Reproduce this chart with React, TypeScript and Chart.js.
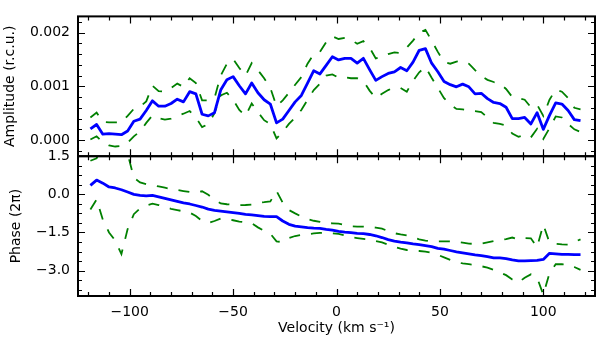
import React, { useEffect, useRef } from 'react';
import { Chart, registerables } from 'chart.js';

Chart.register(...registerables);

// ---- data ----
const velocity = [
  -119, -116, -113, -110, -107, -104, -101, -98, -95, -92,
  -89, -86, -83, -80, -77, -74, -71, -68, -65, -62,
  -59, -56, -53, -50, -47, -44, -41, -38, -35, -32,
  -29, -26, -23, -20, -17, -14, -11, -8, -5, -2,
  1, 4, 7, 10, 13, 16, 19, 22, 25, 28,
  31, 34, 37, 40, 43, 46, 49, 52, 55, 58,
  61, 64, 67, 70, 73, 76, 79, 82, 85, 88,
  91, 94, 97, 100, 103, 106, 109, 112, 115, 118,
];

const amplitude = [
  0.21e-3, 0.29e-3, 0.11e-3, 0.12e-3, 0.11e-3, 0.10e-3, 0.17e-3, 0.35e-3, 0.39e-3, 0.55e-3,
  0.73e-3, 0.63e-3, 0.63e-3, 0.68e-3, 0.76e-3, 0.71e-3, 0.90e-3, 0.86e-3, 0.48e-3, 0.45e-3,
  0.51e-3, 0.93e-3, 1.12e-3, 1.18e-3, 1.01e-3, 0.86e-3, 1.06e-3, 0.88e-3, 0.75e-3, 0.67e-3,
  0.32e-3, 0.39e-3, 0.55e-3, 0.71e-3, 0.83e-3, 1.06e-3, 1.29e-3, 1.23e-3, 1.39e-3, 1.55e-3,
  1.49e-3, 1.52e-3, 1.52e-3, 1.43e-3, 1.52e-3, 1.31e-3, 1.11e-3, 1.18e-3, 1.24e-3, 1.27e-3,
  1.35e-3, 1.29e-3, 1.45e-3, 1.67e-3, 1.70e-3, 1.43e-3, 1.27e-3, 1.09e-3, 1.03e-3, 0.99e-3,
  1.04e-3, 0.99e-3, 0.86e-3, 0.87e-3, 0.77e-3, 0.70e-3, 0.68e-3, 0.61e-3, 0.40e-3, 0.40e-3,
  0.42e-3, 0.30e-3, 0.51e-3, 0.20e-3, 0.46e-3, 0.69e-3, 0.67e-3, 0.55e-3, 0.38e-3, 0.36e-3,
];

const amplitudeUpper = [
  0.42e-3, 0.51e-3, 0.34e-3, 0.33e-3, 0.33e-3, 0.33e-3, 0.45e-3, 0.58e-3, 0.62e-3, 0.72e-3,
  1.01e-3, 0.91e-3, 0.90e-3, 0.97e-3, 1.05e-3, 0.99e-3, 1.15e-3, 1.06e-3, 0.74e-3, 0.74e-3,
  0.78e-3, 1.20e-3, 1.42e-3, 1.51e-3, 1.34e-3, 1.20e-3, 1.43e-3, 1.30e-3, 1.15e-3, 0.97e-3,
  0.63e-3, 0.74e-3, 0.88e-3, 1.03e-3, 1.17e-3, 1.42e-3, 1.60e-3, 1.64e-3, 1.82e-3, 1.93e-3,
  1.88e-3, 1.90e-3, 1.87e-3, 1.79e-3, 1.84e-3, 1.72e-3, 1.52e-3, 1.55e-3, 1.60e-3, 1.63e-3,
  1.62e-3, 1.72e-3, 1.85e-3, 2.00e-3, 2.05e-3, 1.85e-3, 1.64e-3, 1.45e-3, 1.42e-3, 1.46e-3,
  1.47e-3, 1.42e-3, 1.30e-3, 1.19e-3, 1.12e-3, 1.08e-3, 1.05e-3, 0.95e-3, 0.80e-3, 0.78e-3,
  0.75e-3, 0.61e-3, 0.66e-3, 0.45e-3, 0.75e-3, 0.94e-3, 0.90e-3, 0.78e-3, 0.60e-3, 0.57e-3,
];

const amplitudeLower = [
  0.01e-3, 0.07e-3, -0.04e-3, -0.10e-3, -0.12e-3, -0.11e-3, -0.05e-3, 0.07e-3, 0.16e-3, 0.32e-3,
  0.46e-3, 0.41e-3, 0.38e-3, 0.40e-3, 0.45e-3, 0.49e-3, 0.54e-3, 0.42e-3, 0.24e-3, 0.30e-3,
  0.50e-3, 0.83e-3, 0.88e-3, 0.75e-3, 0.56e-3, 0.45e-3, 0.68e-3, 0.52e-3, 0.37e-3, 0.30e-3,
  0.03e-3, 0.15e-3, 0.30e-3, 0.42e-3, 0.56e-3, 0.75e-3, 0.93e-3, 1.05e-3, 1.20e-3, 1.22e-3,
  1.16e-3, 1.17e-3, 1.15e-3, 1.15e-3, 1.10e-3, 0.92e-3, 0.78e-3, 0.86e-3, 0.93e-3, 0.98e-3,
  0.97e-3, 0.90e-3, 1.10e-3, 1.26e-3, 1.36e-3, 1.16e-3, 0.97e-3, 0.78e-3, 0.66e-3, 0.58e-3,
  0.57e-3, 0.55e-3, 0.54e-3, 0.52e-3, 0.42e-3, 0.32e-3, 0.30e-3, 0.27e-3, 0.12e-3, 0.06e-3,
  0.10e-3, 0.05e-3, 0.21e-3, 0.02e-3, 0.22e-3, 0.44e-3, 0.42e-3, 0.30e-3, 0.20e-3, 0.15e-3,
];

const phase = [
  0.35, 0.56, 0.44, 0.29, 0.25, 0.18, 0.09, 0.00, -0.04, -0.06,
  -0.04, -0.10, -0.16, -0.22, -0.28, -0.34, -0.38, -0.44, -0.50, -0.58,
  -0.63, -0.66, -0.69, -0.72, -0.75, -0.79, -0.81, -0.84, -0.87, -0.88,
  -0.88, -1.05, -1.18, -1.25, -1.28, -1.31, -1.33, -1.34, -1.38, -1.41,
  -1.46, -1.49, -1.51, -1.54, -1.55, -1.58, -1.63, -1.70, -1.78, -1.84,
  -1.88, -1.91, -1.95, -1.98, -2.02, -2.06, -2.13, -2.16, -2.21, -2.26,
  -2.30, -2.34, -2.38, -2.41, -2.45, -2.50, -2.50, -2.53, -2.58, -2.62,
  -2.62, -2.61, -2.60, -2.56, -2.32, -2.34, -2.36, -2.36, -2.37, -2.37,
];

const phaseUpper = [
  1.32, 1.42, 1.90, 2.20, 2.30, 2.20, 1.60, 0.65, 0.47, 0.40,
  0.36, 0.31, 0.26, 0.21, 0.17, 0.13, 0.09, 0.06, 0.12, -0.02,
  -0.20, -0.36, -0.39, -0.41, -0.43, -0.42, -0.40, -0.33, -0.31, -0.28,
  0.13, -0.33, -0.62, -0.75, -0.87, -0.97, -1.04, -1.08, -1.13, -1.14,
  -1.15, -1.20, -1.26, -1.27, -1.27, -1.28, -1.31, -1.35, -1.45, -1.53,
  -1.58, -1.62, -1.70, -1.77, -1.82, -1.85, -1.85, -1.85, -1.85, -1.86,
  -1.90, -1.94, -1.95, -1.94, -1.89, -1.84, -1.80, -1.76, -1.70, -1.78,
  -1.72, -1.73, -2.08, -1.19, -1.90, -1.95, -1.97, -1.98, -1.88, -1.77,
];

const phaseLower = [
  -0.60, -0.20, -1.00, -1.50, -1.82, -2.35, -1.37, -0.78, -0.55, -0.44,
  -0.37, -0.42, -0.50, -0.57, -0.62, -0.67, -0.72, -0.85, -1.05, -1.13,
  -1.05, -0.95, -0.97, -1.02, -1.07, -1.10, -1.14, -1.30, -1.44, -1.55,
  -1.85, -1.88, -1.72, -1.64, -1.60, -1.57, -1.54, -1.52, -1.50, -1.53,
  -1.56, -1.62, -1.69, -1.72, -1.75, -1.78, -1.84, -1.89, -1.98, -2.07,
  -2.14, -2.19, -2.21, -2.23, -2.25, -2.30, -2.38, -2.48, -2.58, -2.66,
  -2.72, -2.75, -2.78, -2.83, -2.88, -2.97, -3.07, -3.18, -3.35, -3.47,
  -3.28, -3.15, -3.28, -3.95, -3.10, -2.75, -2.75, -2.76, -2.86, -2.97,
];

const velocityTicks = [-100, -50, 0, 50, 100];
const amplitudeTicks = [0, 0.001, 0.002];
const phaseTicks = [1.5, 0, -1.5, -3.0];

// ---- styling ----
const FONT = { family: '"DejaVu Sans", "Liberation Sans", sans-serif', size: 14 };
const BLUE = '#0000ff';
const GREEN = '#008000';

const toMinus = (s: string) => s.replace(/-/g, '\u2212');

function minorValues(min: number, max: number, step: number): number[] {
  const out: number[] = [];
  const start = Math.ceil(min / step - 1e-9);
  for (let k = start; k * step <= max + 1e-9; k++) out.push(k * step);
  return out;
}

const framePlugin = {
  id: 'mplFrame',
  afterDatasetsDraw(chart: any) {
    const ctx = chart.ctx as CanvasRenderingContext2D;
    const xs = chart.scales.x;
    const panels = [
      { s: chart.scales.yAmp, major: amplitudeTicks, minor: minorValues(-0.0003, 0.0023, 0.0002) },
      { s: chart.scales.yPhase, major: phaseTicks, minor: minorValues(-4, 1.5, 0.375) },
    ];
    const xMinor = minorValues(-125, 125, 10);
    const MAJ = 7;
    const MIN = 4;
    const left = xs.left;
    const right = xs.right;
    ctx.save();
    ctx.strokeStyle = '#000';
    ctx.lineCap = 'butt';
    for (const p of panels) {
      const top = p.s.top;
      const bottom = p.s.bottom;
      ctx.lineWidth = 1.2;
      ctx.beginPath();
      const xTick = (v: number, len: number) => {
        const px = Math.round(xs.getPixelForValue(v)) + 0.5;
        ctx.moveTo(px, top);
        ctx.lineTo(px, top + len);
        ctx.moveTo(px, bottom);
        ctx.lineTo(px, bottom - len);
      };
      const yTick = (v: number, len: number) => {
        const py = Math.round(p.s.getPixelForValue(v)) + 0.5;
        if (py < top - 0.5 || py > bottom + 0.5) return;
        ctx.moveTo(left, py);
        ctx.lineTo(left + len, py);
        ctx.moveTo(right, py);
        ctx.lineTo(right - len, py);
      };
      velocityTicks.forEach((v) => xTick(v, MAJ));
      xMinor.forEach((v) => xTick(v, MIN));
      p.major.forEach((v) => yTick(v, MAJ));
      p.minor.forEach((v) => yTick(v, MIN));
      ctx.stroke();
      ctx.lineWidth = 2;
      ctx.strokeRect(left, top, right - left, bottom - top);
    }
    ctx.restore();
  },
};

function pts(ys: number[]) {
  return velocity.map((v, i) => ({ x: v, y: ys[i] }));
}

export default function App() {
  const ref = useRef<HTMLCanvasElement | null>(null);

  useEffect(() => {
    if (!ref.current) return;
    const dashed = {
      borderColor: GREEN,
      borderWidth: 1.8,
      borderDash: [11, 11],
      pointRadius: 0,
      fill: false,
      tension: 0,
      clip: 0,
    };
    const solid = {
      borderColor: BLUE,
      borderWidth: 2.8,
      pointRadius: 0,
      fill: false,
      tension: 0,
      borderJoinStyle: 'round' as const,
      clip: 0,
    };
    const chart = new Chart(ref.current, {
      type: 'line',
      data: {
        datasets: [
          { ...solid, label: 'Amplitude', data: pts(amplitude), yAxisID: 'yAmp', order: 0 },
          { ...solid, label: 'Phase', data: pts(phase), yAxisID: 'yPhase', order: 0 },
          { ...dashed, label: 'Amplitude upper', data: pts(amplitudeUpper), yAxisID: 'yAmp', order: 1 },
          { ...dashed, label: 'Amplitude lower', data: pts(amplitudeLower), yAxisID: 'yAmp', order: 1 },
          { ...dashed, label: 'Phase upper', data: pts(phaseUpper), yAxisID: 'yPhase', order: 1 },
          { ...dashed, label: 'Phase lower', data: pts(phaseLower), yAxisID: 'yPhase', order: 1 },
        ] as any,
      },
      options: {
        animation: false,
        responsive: false,
        maintainAspectRatio: false,
        devicePixelRatio: 1,
        layout: { padding: { top: 4, right: 5, left: 0, bottom: 0 } },
        plugins: { legend: { display: false }, tooltip: { enabled: false } },
        scales: {
          x: {
            type: 'linear',
            position: 'bottom',
            min: -125,
            max: 125,
            grid: { display: false, drawTicks: false },
            border: { display: false },
            afterBuildTicks: (s: any) => {
              s.ticks = velocityTicks.map((v) => ({ value: v }));
            },
            afterFit: (s: any) => {
              s.height = 55;
            },
            ticks: {
              autoSkip: false,
              maxRotation: 0,
              padding: 8,
              color: '#000',
              font: FONT,
              callback: (v: any) => toMinus(String(v)),
            },
            title: {
              display: true,
              text: 'Velocity (km s\u207B\u00B9)',
              color: '#000',
              font: FONT,
              padding: { top: 0, bottom: 14 },
            },
          },
          yAmp: {
            type: 'linear',
            position: 'left',
            stack: 'panels',
            stackWeight: 1,
            weight: 1,
            min: -0.0003,
            max: 0.0023,
            grid: { display: false, drawTicks: false },
            border: { display: false },
            afterBuildTicks: (s: any) => {
              s.ticks = amplitudeTicks.map((v) => ({ value: v }));
            },
            afterFit: (s: any) => {
              s.width = 78;
            },
            ticks: {
              autoSkip: false,
              padding: 8,
              color: '#000',
              font: FONT,
              callback: (v: any) => toMinus(Number(v).toFixed(3)),
            },
            title: {
              display: true,
              text: 'Amplitude (r.c.u.)',
              color: '#000',
              font: FONT,
              padding: { top: 2, bottom: 0 },
            },
          },
          yPhase: {
            type: 'linear',
            position: 'left',
            stack: 'panels',
            stackWeight: 1,
            weight: 0,
            min: -4,
            max: 1.5,
            grid: { display: false, drawTicks: false },
            border: { display: false },
            afterBuildTicks: (s: any) => {
              s.ticks = phaseTicks.map((v) => ({ value: v }));
            },
            afterFit: (s: any) => {
              s.width = 78;
            },
            ticks: {
              autoSkip: false,
              padding: 8,
              color: '#000',
              font: FONT,
              callback: (v: any) => toMinus(Number(v).toFixed(1)),
            },
            title: {
              display: true,
              text: 'Phase (2\u03C0)',
              color: '#000',
              font: FONT,
              padding: { top: 8, bottom: 0 },
            },
          },
        },
      } as any,
      plugins: [framePlugin],
    });
    return () => chart.destroy();
  }, []);

  return (
    <div style={{ position: 'absolute', left: 0, top: 0, width: 600, height: 351, background: '#fff' }}>
      <canvas ref={ref} width={600} height={351} style={{ display: 'block' }} />
    </div>
  );
}
